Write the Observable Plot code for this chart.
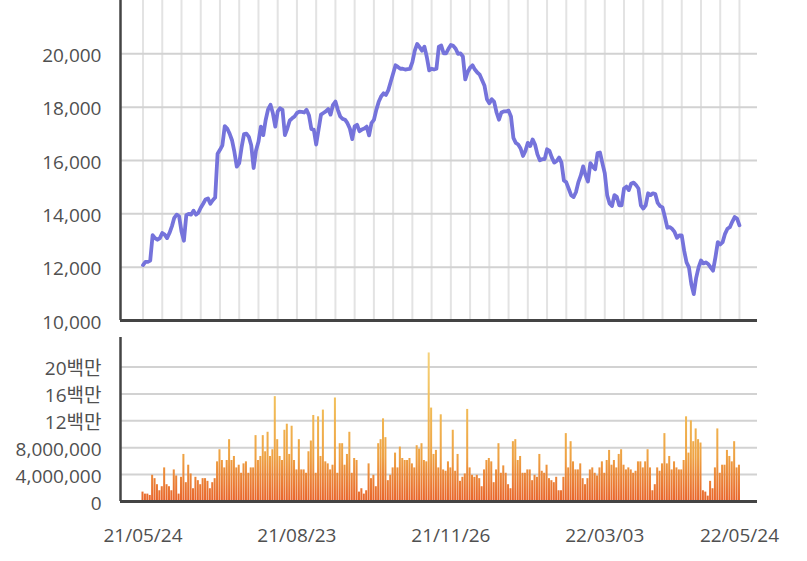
<!DOCTYPE html>
<html><head><meta charset="utf-8">
<script src="https://cdn.jsdelivr.net/npm/d3@7"></script>
<script src="https://cdn.jsdelivr.net/npm/@observablehq/plot@0.6"></script>
<style>
body{margin:0;background:#fff;}
#chart{width:807px;}
#chart svg{display:block;}
</style></head><body><div id="chart"></div>
<script>
// Daily closing prices (index = trading day)
const prices = [12080,12200,12200,12250,13200,13090,13030,13090,13280,13220,
13090,13280,13530,13850,13970,13910,13340,12990,13950,14000,
13970,14120,13970,14040,14230,14380,14540,14580,14380,14510,
14610,16250,16400,16570,17290,17200,17010,16760,16320,15770,
15900,16500,16990,17010,16890,16570,15720,16380,16700,17270,
16950,17520,17920,18090,17770,17270,17840,17960,17900,16950,
17200,17500,17580,17650,17780,17830,17820,17800,17900,17700,
17180,17160,16600,17160,17720,17780,17840,17930,17720,18090,
18210,17900,17650,17560,17530,17400,17200,16800,17280,17340,
17100,17160,17200,17270,16940,17400,17520,17900,18200,18400,
18520,18460,18640,18950,19260,19570,19510,19440,19440,19410,
19430,19440,19690,20120,20370,20250,20120,20270,19880,19380,
19440,19410,19440,20270,20310,20020,20020,20190,20330,20300,
20190,20000,20020,19900,19040,19320,19480,19570,19410,19300,
19220,19010,18800,18300,18150,18300,18200,17800,17530,17800,
17840,17840,17870,17650,16850,16660,16600,16450,16170,16360,
16660,16540,16790,16600,16230,16010,16050,16050,16420,16360,
16110,15920,15980,16110,15920,15250,15180,14940,14700,14630,
14810,15180,15430,15780,15450,15210,15900,15770,15670,16280,
16300,15900,15520,14700,14390,14290,14700,14640,14320,14320,
14950,15020,14890,15140,15170,15080,14950,14320,14200,14320,
14770,14700,14770,14740,14410,14290,14240,13880,13480,13500,
13440,13320,13100,13190,13190,12620,12180,11990,11360,10990,
11600,11990,12250,12140,12180,12120,11990,11870,12370,12940,
12850,12940,13250,13440,13500,13700,13880,13820,13570];

// Daily volume, millions of shares
const volumesM = [1.4,1.1,1.1,0.9,3.9,3.4,2.5,1.6,2.2,5.0,
2.5,2.2,1.6,4.7,3.8,1.1,3.6,7.0,2.8,5.4,
4.1,1.9,3.6,3.1,2.5,3.4,3.4,3.0,1.9,2.8,
3.4,5.9,7.7,6.1,5.0,6.1,9.2,6.1,6.7,5.0,
5.4,4.2,5.6,5.9,4.2,5.0,5.0,9.8,6.1,6.7,
9.8,7.4,10.3,6.7,7.7,15.6,9.2,6.7,6.1,10.6,
11.5,7.0,11.2,6.1,4.7,9.2,4.7,4.7,4.2,7.4,
9.0,12.8,4.2,12.6,6.7,13.6,5.9,5.6,4.7,5.4,
15.4,4.2,8.6,8.6,5.4,7.0,10.3,4.2,6.4,6.1,
1.4,1.9,1.1,1.6,5.6,3.4,3.9,2.2,8.6,9.2,
12.3,9.5,3.1,3.9,5.0,7.2,5.0,8.1,6.4,6.1,
6.1,6.4,5.6,5.0,8.3,7.8,8.6,6.1,5.9,22.1,
13.9,7.0,
7.6,5.0,12.9,4.7,4.5,5.9,5.0,10.6,4.5,7.0,
3.0,3.6,4.1,13.7,5.0,3.9,3.6,3.9,3.4,2.2,
4.7,6.1,6.4,5.9,2.8,4.7,8.6,4.2,5.3,4.2,
2.5,1.9,8.9,9.2,6.1,6.7,4.2,4.2,4.7,4.7,
3.1,3.9,3.6,7.0,4.5,4.2,5.4,3.4,3.1,2.8,
3.6,1.6,1.6,3.6,10.1,5.0,8.9,5.9,4.7,4.7,
5.6,3.4,2.5,3.4,4.7,5.0,4.2,3.8,5.0,5.9,
4.2,6.1,7.6,5.4,6.1,5.0,7.0,7.7,5.4,4.7,
5.0,4.7,4.2,4.5,5.9,5.9,5.0,5.9,7.7,5.0,
1.6,2.5,5.0,4.5,5.6,10.1,5.6,6.7,4.7,5.9,
5.0,
4.7,4.7,6.1,12.6,7.2,12.0,8.9,10.8,9.2,8.7,
1.6,1.4,0.8,3.0,1.9,5.0,10.8,4.2,5.4,5.4,
7.6,6.7,5.9,8.9,5.0,5.4];

const xTickIndex = [0, 64, 128, 192, 248];
const xTickLabels = ["21/05/24", "21/08/23", "21/11/26", "22/03/03", "22/05/24"];
const xGridIndex = [0,8,16,24,32,40,48,56,64,72,80,88,96,104,112,120,128,136,144,152,160,168,176,184,192,200,208,216,224,232,240,248];
const priceTicks = [10000, 12000, 14000, 16000, 18000, 20000];
const volumeTicks = [0, 4000000, 8000000, 12000000, 16000000, 20000000];

const priceData = prices.map((p, i) => ({i, p}));
const volumeData = volumesM.map((v, i) => ({i, v: v * 1e6}));

const xDomain = [-9.36, 255.5];
const font = '"Open Sans","Noto Sans CJK KR",sans-serif';
const baseStyle = {fontFamily: font, fontSize: "19px", color: "#505050", background: "#fff", overflow: "visible"};
const volFmt = v => v >= 10000000 ? (v / 1e6) + "백만" : d3.format(",")(v);

const priceChart = Plot.plot({
  width: 807, height: 330,
  marginLeft: 120, marginRight: 50, marginTop: 0, marginBottom: 10,
  x: {domain: xDomain, axis: null},
  y: {domain: [10000, 22000], axis: null},
  style: baseStyle,
  marks: [
    Plot.ruleX(xGridIndex, {x: d => d, stroke: "#e3e3e3", strokeWidth: 2}),
    Plot.ruleY(priceTicks, {y: d => d, stroke: "#d2d2d2", strokeWidth: 2}),
    Plot.axisY({ticks: priceTicks, tickSize: 0, tickPadding: 19, tickFormat: d3.format(","), dy: 2, label: null}),
    Plot.line(priceData, {x: "i", y: "p", stroke: "#7573db", strokeWidth: 3.8, strokeLinejoin: "round"}),
    Plot.ruleX([xDomain[0]], {stroke: "#444", strokeWidth: 2.5}),
    Plot.ruleY([10000], {stroke: "#444", strokeWidth: 3})
  ]
});

const volumeChart = Plot.plot({
  width: 807, height: 231,
  marginLeft: 120, marginRight: 50, marginTop: 7, marginBottom: 60,
  x: {domain: xDomain, axis: null},
  y: {domain: [0, 24400000], axis: null},
  style: baseStyle,
  marks: [
    Plot.ruleY(volumeTicks, {y: d => d, stroke: "#d2d2d2", strokeWidth: 2}),
    Plot.rectY(volumeData, {x1: d => d.i - 0.42, x2: d => d.i + 0.42, y: "v", fill: "url(#volGrad)"}),
    Plot.ruleX([xDomain[0]], {stroke: "#444", strokeWidth: 2.5}),
    Plot.ruleY([0], {stroke: "#444", strokeWidth: 3}),
    Plot.axisY({ticks: volumeTicks, tickSize: 0, tickPadding: 19, tickFormat: volFmt, dy: 2, label: null}),
    Plot.axisX({ticks: xTickIndex, tickSize: 0, tickPadding: 27, tickFormat: d => xTickLabels[xTickIndex.indexOf(d)], label: null})
  ]
});

// gradient for volume bars (darker orange at bottom, yellow-orange toward top)
const ys = volumeChart.scale("y");
const defs = d3.select(volumeChart).insert("defs", ":first-child");
const g = defs.append("linearGradient").attr("id", "volGrad")
  .attr("gradientUnits", "userSpaceOnUse")
  .attr("x1", 0).attr("x2", 0)
  .attr("y1", ys.apply(0)).attr("y2", ys.apply(22000000));
g.append("stop").attr("offset", "0").attr("stop-color", "#e8642b");
g.append("stop").attr("offset", "0.3").attr("stop-color", "#eea243");
g.append("stop").attr("offset", "0.65").attr("stop-color", "#f1bd58");
g.append("stop").attr("offset", "1").attr("stop-color", "#f5d27c");

document.getElementById("chart").append(priceChart, volumeChart);
</script>
</body></html>
